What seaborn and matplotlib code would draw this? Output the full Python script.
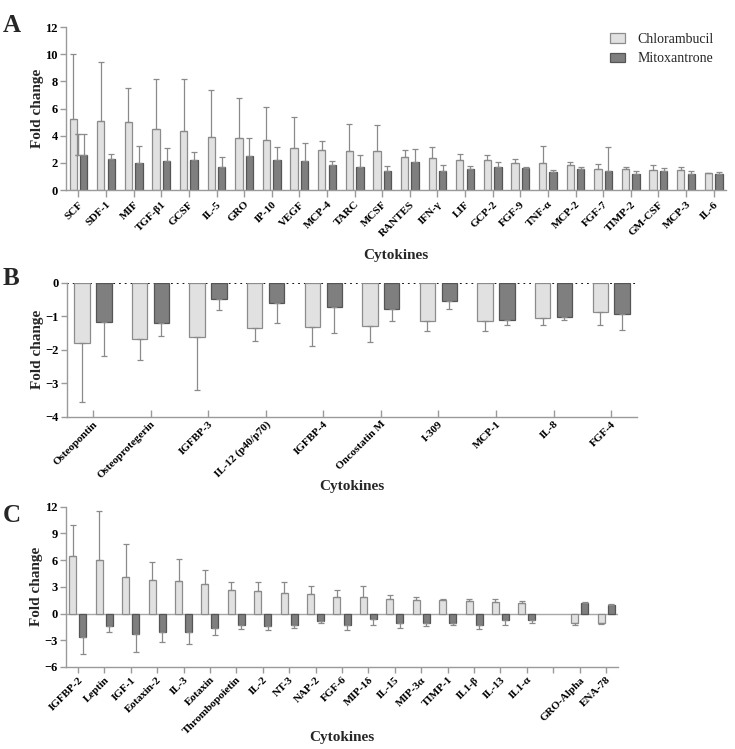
import pandas as pd
import numpy as np
import matplotlib
matplotlib.use("Agg")
import matplotlib.pyplot as plt
import seaborn as sns

# Data ------------------------------------------------------------------------#

drugs = ['Chlorambucil', 'Mitoxantrone']

# Panel A: up-regulated cytokines (mean fold change and top of error bar)
a_labels = ['SCF', 'SDF-1', 'MIF', 'TGF-β1', 'GCSF', 'IL-5', 'GRO', 'IP-10', 'VEGF',
            'MCP-4', 'TARC', 'MCSF', 'RANTES', 'IFN-γ', 'LIF', 'GCP-2', 'FGF-9',
            'TNF-α', 'MCP-2', 'FGF-7', 'TIMP-2', 'GM-CSF', 'MCP-3', 'IL-6']
a_chl = [5.22, 5.07, 4.98, 4.51, 4.36, 3.90, 3.80, 3.68, 3.09, 2.92, 2.89, 2.87,
         2.40, 2.35, 2.20, 2.20, 1.99, 1.99, 1.84, 1.54, 1.54, 1.47, 1.47, 1.25]
a_chl_end = [10.05, 9.46, 7.48, 8.14, 8.14, 7.40, 6.74, 6.08, 5.34, 3.60, 4.83, 4.78,
             2.92, 3.16, 2.67, 2.57, 2.25, 3.24, 2.06, 1.91, 1.69, 1.84, 1.72, 1.27]
a_mit = [2.57, 2.28, 1.99, 2.11, 2.18, 1.69, 2.50, 2.18, 2.11, 1.81, 1.69, 1.42,
         2.06, 1.40, 1.52, 1.69, 1.64, 1.32, 1.54, 1.37, 1.20, 1.40, 1.20, 1.20]
a_mit_end = [4.09, 2.62, 3.26, 3.06, 2.77, 2.40, 3.82, 3.16, 3.43, 2.16, 2.55, 1.79,
             2.99, 1.81, 1.76, 2.03, 1.67, 1.45, 1.67, 3.19, 1.37, 1.59, 1.37, 1.30]

# Panel B: down-regulated cytokines
b_labels = ['Osteopontin', 'Osteoprotegerin', 'IGFBP-3', 'IL-12 (p40/p70)', 'IGFBP-4',
            'Oncostatin M', 'I-309', 'MCP-1', 'IL-8', 'FGF-4']
b_chl = [-1.81, -1.67, -1.62, -1.36, -1.33, -1.28, -1.15, -1.13, -1.06, -0.89]
b_chl_end = [-3.57, -2.30, -3.21, -1.74, -1.88, -1.77, -1.44, -1.44, -1.26, -1.26]
b_mit = [-1.16, -1.19, -0.50, -0.60, -0.72, -0.78, -0.54, -1.10, -1.03, -0.94]
b_mit_end = [-2.18, -1.58, -0.83, -1.20, -1.50, -1.13, -0.80, -1.26, -1.11, -1.41]

# Panel C: opposite regulation (empty slot before GRO-Alpha)
c_labels = ['IGFBP-2', 'Leptin', 'IGF-1', 'Eotaxin-2', 'IL-3', 'Eotaxin', 'Thrombopoietin',
            'IL-2', 'NT-3', 'NAP-2', 'FGF-6', 'MIP-1δ', 'IL-15', 'MIP-3α', 'TIMP-1',
            'IL1-β', 'IL-13', 'IL1-α', ' ', 'GRO-Alpha', 'ENA-78']
c_chl = [6.45, 6.00, 4.16, 3.82, 3.71, 3.37, 2.59, 2.51, 2.36, 2.17, 1.87, 1.87, 1.69,
         1.57, 1.54, 1.42, 1.31, 1.24, np.nan, -1.09, -1.01]
c_chl_end = [9.90, 11.55, 7.76, 5.74, 6.08, 4.84, 3.49, 3.49, 3.49, 3.15, 2.59, 3.15, 2.06,
             1.87, 1.61, 1.65, 1.61, 1.42, np.nan, -1.27, -1.16]
c_mit = [-2.62, -1.35, -2.25, -2.06, -2.06, -1.57, -1.27, -1.35, -1.27, -0.79, -1.27, -0.56,
         -1.01, -1.09, -1.09, -1.27, -0.67, -0.75, np.nan, 1.20, 1.01]
c_mit_end = [-4.50, -2.02, -4.27, -3.15, -3.37, -2.36, -1.76, -1.87, -1.57, -1.09, -1.84, -1.24,
             -1.57, -1.35, -1.31, -1.76, -1.27, -1.01, np.nan, 1.27, 1.09]

# Style -----------------------------------------------------------------------#

sns.set_style("ticks")
plt.rcParams['font.family'] = ['Liberation Serif', 'DejaVu Serif']
plt.rcParams['font.weight'] = 'bold'

fill = {'Chlorambucil': '#e1e1e1', 'Mitoxantrone': '#7f7f7f'}
edge = {'Chlorambucil': '#8c8c8c', 'Mitoxantrone': '#555555'}
axis_grey = '#9a9a9a'


def panel(ax, labels, chl, chl_end, mit, mit_end, ylim, yticks, xlab_y, legend=False):
    df = pd.DataFrame({'cytokine': labels * 2,
                       'drug': [drugs[0]] * len(labels) + [drugs[1]] * len(labels),
                       'fold': list(chl) + list(mit)})
    sns.barplot(data=df.dropna(), x='cytokine', y='fold', hue='drug', order=labels,
                hue_order=drugs, palette=fill, width=0.76, gap=0.3, errorbar=None,
                linewidth=0.9, edgecolor=edge[drugs[0]], legend=legend, ax=ax)
    vals = [chl, mit]
    ends = [chl_end, mit_end]
    for p in ax.patches:
        xc = p.get_x() + p.get_width() / 2
        i = int(round(xc))
        h = 0 if xc < i else 1
        p.set_edgecolor(edge[drugs[h]])
        v, e = vals[h][i], ends[h][i]
        if np.isnan(v):
            continue
        yerr = [[0], [e - v]] if v > 0 else [[v - e], [0]]
        ax.errorbar(xc, v, yerr=yerr, fmt='none', ecolor='#8a8a8a', elinewidth=0.9,
                    capsize=2.0, capthick=0.9, zorder=1)
    ax.set_xlim(-0.45, len(labels) - 0.55)
    ax.set_ylim(*ylim)
    ax.set_yticks(yticks)
    ax.set_xlabel('Cytokines', fontsize=11, fontweight='bold')
    ax.xaxis.set_label_coords(0.5, xlab_y)
    ax.set_ylabel('Fold change', fontsize=11, fontweight='bold', labelpad=1)
    ax.set_xticks(range(len(labels)))
    ax.set_xticklabels(labels, rotation=45, ha='right', rotation_mode='anchor',
                       fontsize=8, fontweight='bold')
    for t in ax.get_yticklabels():
        t.set_fontweight('bold')
        t.set_fontsize(9)
    sns.despine(ax=ax)
    for s in ['left', 'bottom']:
        ax.spines[s].set_color(axis_grey)
        ax.spines[s].set_linewidth(1.0)
    ax.tick_params(colors=axis_grey, labelcolor='black', width=1.0, length=4, pad=2)


fig = plt.figure(figsize=(7.35, 7.49), dpi=100)

# Panel A
ax_a = fig.add_axes([0.0898, 0.7463, 0.898, 0.2176])
panel(ax_a, a_labels, a_chl, a_chl_end, a_mit, a_mit_end, (0, 12), range(0, 13, 2),
      -0.36, legend=True)
ax_a.tick_params(axis='x', length=5)
sns.move_legend(ax_a, 'upper right', bbox_to_anchor=(1.0, 1.04), frameon=False, title=None,
                fontsize=10, handlelength=1.1, handleheight=0.7, handletextpad=0.9,
                labelspacing=0.45)
for t in ax_a.get_legend().get_texts():
    t.set_fontweight('normal')
for hnd, d in zip(ax_a.get_legend().legend_handles, drugs):
    hnd.set_edgecolor(edge[d])

# Panel B
ax_b = fig.add_axes([0.0912, 0.4437, 0.7755, 0.1789])
panel(ax_b, b_labels, b_chl, b_chl_end, b_mit, b_mit_end, (-4, 0), [0, -1, -2, -3, -4],
      -0.475)
ax_b.axhline(0, color='black', linestyle=(0, (1, 2.2)), linewidth=1.3, zorder=0)
ax_b.tick_params(axis='x', direction='in', length=5)

# Panel C
ax_c = fig.add_axes([0.0898, 0.1095, 0.751, 0.2140])
panel(ax_c, c_labels, c_chl, c_chl_end, c_mit, c_mit_end, (-6, 12), range(-6, 13, 3),
      -0.40)
ax_c.axhline(0, color='#a8a8a8', linewidth=1.0, zorder=0)

# Panel letters
for letter, y in [('A', 0.981), ('B', 0.643), ('C', 0.327)]:
    fig.text(0.004, y, letter, fontsize=18, fontweight='bold', va='top', ha='left')

fig.savefig('out.png', dpi=100)
